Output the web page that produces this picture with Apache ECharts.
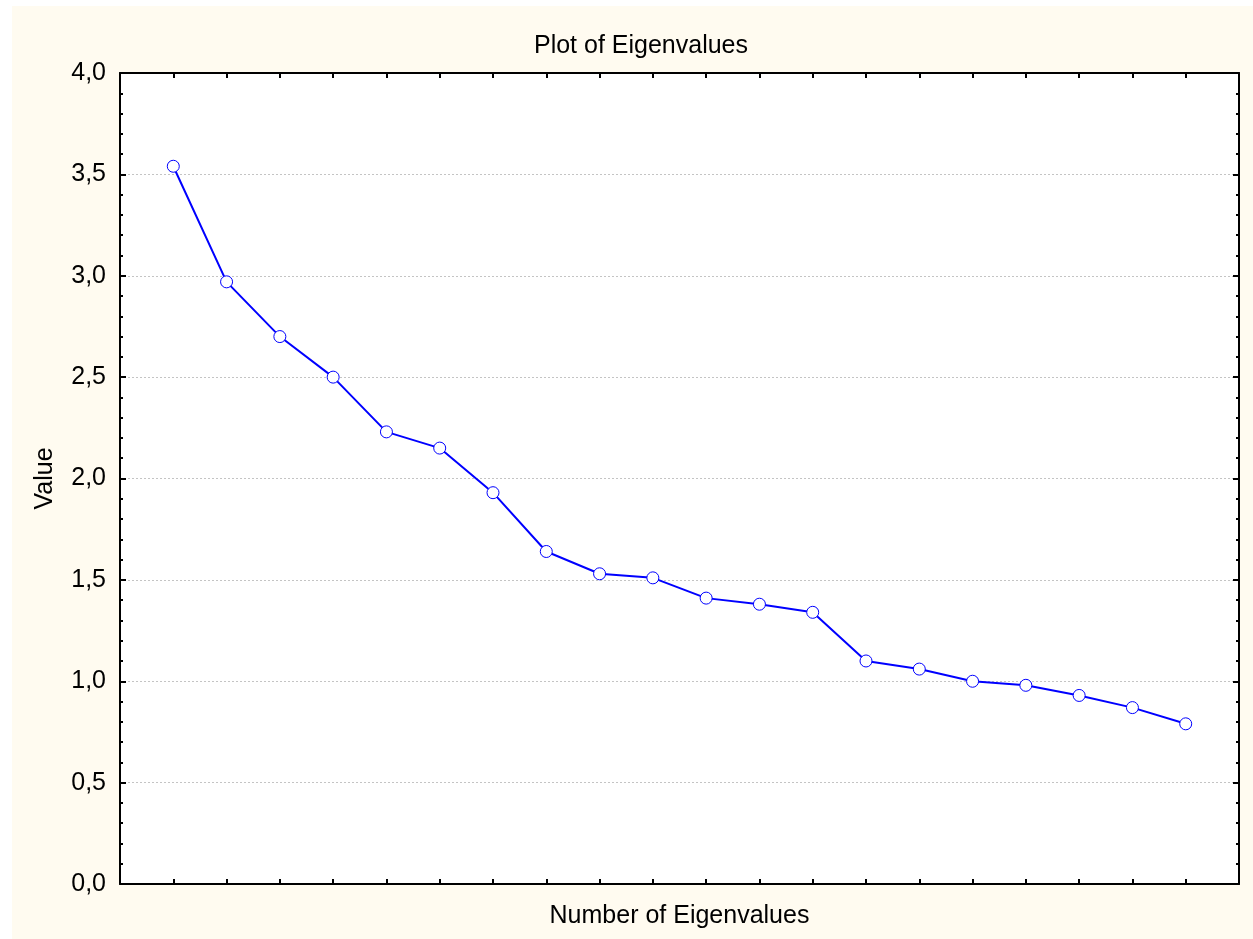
<!DOCTYPE html>
<html>
<head>
<meta charset="utf-8">
<script src="https://cdn.jsdelivr.net/npm/echarts@6/dist/echarts.min.js"></script>
<style>
html,body{margin:0;padding:0;background:#fff;}
#chart{width:1253px;height:939px;}
</style>
</head>
<body>
<div id="chart"></div>
<script>
const titleText = 'Plot of Eigenvalues';
const xName = 'Number of Eigenvalues';
const yName = 'Value';
const componentNumbers = [1,2,3,4,5,6,7,8,9,10,11,12,13,14,15,16,17,18,19,20];
const eigenvalues = [3.54,2.97,2.70,2.50,2.23,2.15,1.93,1.64,1.53,1.51,1.41,1.38,1.34,1.10,1.06,1.00,0.98,0.93,0.87,0.79];
const yTicks = [0,0.5,1,1.5,2,2.5,3,3.5,4];

const chart = echarts.init(document.getElementById('chart'));
const font = 'Liberation Sans, Arial, sans-serif';
const axisLineStyle = {color:'#000', width:2};
const points = componentNumbers.map((n,i)=>[n, eigenvalues[i]]);

chart.setOption({
  backgroundColor:'#fff',
  animation:false,
  graphic:[{type:'rect', z:-10, shape:{x:12,y:6,width:1241,height:933}, style:{fill:'#fffbf0'}}],
  title:{text:titleText, left:636, top:29, textAlign:'center',
    textStyle:{fontFamily:font, fontSize:25, fontWeight:'normal', color:'#000'}},
  grid:{left:120, top:73, right:14, bottom:55, show:true, backgroundColor:'#fff', borderWidth:0, containLabel:false},
  xAxis:[
    {type:'value', position:'bottom', min:0, max:21, interval:1,
     name:xName, nameLocation:'middle', nameGap:20,
     nameTextStyle:{fontFamily:font, fontSize:25, color:'#000'},
     axisLine:{show:true, onZero:false, lineStyle:axisLineStyle},
     axisTick:{show:true, inside:true, length:5, lineStyle:{color:'#000', width:2}},
     axisLabel:{show:false}, splitLine:{show:false}},
    {type:'value', position:'top', min:0, max:21, interval:1,
     axisLine:{show:true, onZero:false, lineStyle:axisLineStyle},
     axisTick:{show:true, inside:true, length:5, lineStyle:{color:'#000', width:2}},
     axisLabel:{show:false}, splitLine:{show:false}}
  ],
  yAxis:[
    {type:'value', position:'left', min:yTicks[0], max:yTicks[yTicks.length-1], interval:0.5,
     name:yName, nameLocation:'middle', nameGap:62, nameRotate:90,
     nameTextStyle:{fontFamily:font, fontSize:25, color:'#000'},
     axisLine:{show:true, onZero:false, lineStyle:axisLineStyle},
     axisTick:{show:true, inside:true, length:6, lineStyle:{color:'#000', width:2}},
     minorTick:{show:true, splitNumber:5, length:3, lineStyle:{color:'#000', width:2}},
     axisLabel:{show:true, margin:14, fontFamily:font, fontSize:25, color:'#000',
       formatter:v=>v.toFixed(1).replace('.',',')},
     splitLine:{show:true, lineStyle:{color:'#c4c4c4', width:1, type:[2,2]}}},
    {type:'value', position:'right', min:yTicks[0], max:yTicks[yTicks.length-1], interval:0.5,
     axisLine:{show:true, onZero:false, lineStyle:axisLineStyle},
     axisTick:{show:true, inside:true, length:6, lineStyle:{color:'#000', width:2}},
     minorTick:{show:true, splitNumber:5, length:3, lineStyle:{color:'#000', width:2}},
     axisLabel:{show:false}, splitLine:{show:false}}
  ],
  series:[{
    type:'line', xAxisIndex:0, yAxisIndex:0, data:points,
    symbol:'circle', symbolSize:12,
    lineStyle:{color:'#0000ff', width:2},
    itemStyle:{color:'#fff', borderColor:'#0000ff', borderWidth:1},
    z:5
  }]
});
</script>
</body>
</html>
